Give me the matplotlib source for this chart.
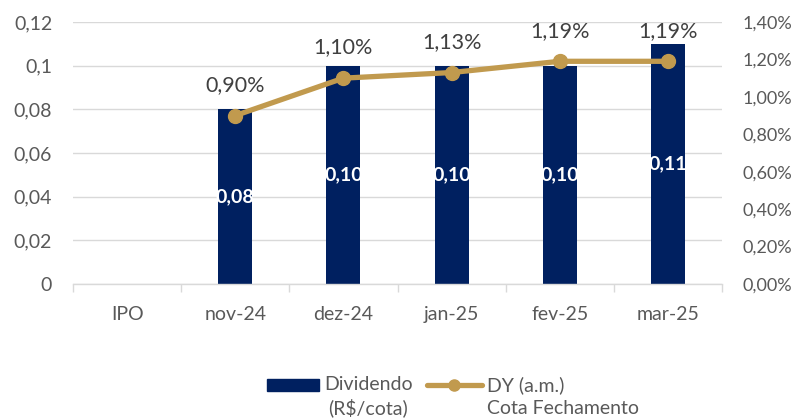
import matplotlib
matplotlib.use("Agg")
import matplotlib.pyplot as plt
from matplotlib.patches import Rectangle
from matplotlib.lines import Line2D
from matplotlib.ticker import FixedLocator

plt.rcParams['font.family'] = ['Lato', 'DejaVu Sans']

categories = ["IPO", "nov-24", "dez-24", "jan-25", "fev-25", "mar-25"]
dividendo = [0, 0.08, 0.10, 0.10, 0.10, 0.11]
dividendo_labels = [None, "0,08", "0,10", "0,10", "0,10", "0,11"]
dy_cats = ["nov-24", "dez-24", "jan-25", "fev-25", "mar-25"]
dy_values = [0.90, 1.10, 1.13, 1.19, 1.19]
dy_labels = ["0,90%", "1,10%", "1,13%", "1,19%", "1,19%"]
left_ticks = [0, 0.02, 0.04, 0.06, 0.08, 0.10, 0.12]
left_tick_labels = ["0", "0,02", "0,04", "0,06", "0,08", "0,1", "0,12"]
right_ticks = [0, 0.2, 0.4, 0.6, 0.8, 1.0, 1.2, 1.4]
right_tick_labels = ["0,00%", "0,20%", "0,40%", "0,60%", "0,80%", "1,00%", "1,20%", "1,40%"]

NAVY = "#002060"
GOLD = "#C19A4E"
TXT = "#595959"
GRID = "#D9D9D9"
FS = 14

fig = plt.figure(figsize=(8, 4.2), dpi=100)
ax = fig.add_axes([73/800, 1-284/420, (722-73)/800, (284-22)/420])
x = list(range(len(categories)))
bars = ax.bar(x, dividendo, width=0.315, color=NAVY, zorder=2)
ax.set_xlim(-0.5, len(categories)-0.5)
ax.set_ylim(0, 0.12)
ax.set_yticks(left_ticks)
ax.set_yticklabels(left_tick_labels)
ax.set_xticks(x)
ax.set_xticklabels(categories)
ax.xaxis.set_minor_locator(FixedLocator([i - 0.5 for i in range(len(categories)+1)]))
ax.tick_params(axis='x', which='major', length=0, pad=16, labelsize=FS, labelcolor=TXT)
ax.tick_params(axis='x', which='minor', length=6, color=GRID, width=1)
ax.tick_params(axis='y', length=0, pad=15, labelsize=FS, labelcolor=TXT)
ax.grid(axis='y', color=GRID, linewidth=1, zorder=0)
for s in ['top', 'right', 'left']:
    ax.spines[s].set_visible(False)
ax.spines['bottom'].set_color(GRID)
ax.spines['bottom'].set_linewidth(1)

for xi, v, lab in zip(x, dividendo, dividendo_labels):
    if lab:
        ax.text(xi, v/2, lab, ha='center', va='center', color='white',
                fontsize=FS, fontweight='bold', zorder=3)

ax2 = ax.twinx()
ax2.set_ylim(0, 1.4)
ax2.set_yticks(right_ticks)
ax2.set_yticklabels(right_tick_labels)
ax2.tick_params(axis='y', length=0, pad=15, labelsize=13, labelcolor=TXT)
for s in ax2.spines.values():
    s.set_visible(False)
dx = [categories.index(c) for c in dy_cats]
ax2.plot(dx, dy_values, color=GOLD, linewidth=3.8, marker='o', markersize=10,
         zorder=4, solid_capstyle='round')
for xi, v, lab in zip(dx, dy_values, dy_labels):
    ax2.annotate(lab, (xi, v), xytext=(0, 22), textcoords='offset points',
                 ha='center', va='center', fontsize=15.5, color="#404040")

# legend
fig.add_artist(Rectangle((267/800, 1-391/420), 52/800, 12/420, transform=fig.transFigure,
                         color=NAVY))
fig.text(324/800, 1-385/420, "Dividendo", ha='left', va='center', fontsize=FS, color=TXT)
fig.text(328/800, 1-408/420, "(R$/cota)", ha='left', va='center', fontsize=FS, color=TXT)
fig.add_artist(Line2D([427/800, 482/800], [1-385/420, 1-385/420], transform=fig.transFigure,
                      color=GOLD, linewidth=3.8, solid_capstyle='round'))
fig.add_artist(Line2D([454/800], [1-385/420], transform=fig.transFigure, color=GOLD,
                      marker='o', markersize=8, linestyle='none'))
fig.text(487/800, 1-385/420, "DY (a.m.)", ha='left', va='center', fontsize=FS, color=TXT)
fig.text(487/800, 1-408/420, "Cota Fechamento", ha='left', va='center', fontsize=FS, color=TXT)

fig.savefig("out.png", dpi=100)
